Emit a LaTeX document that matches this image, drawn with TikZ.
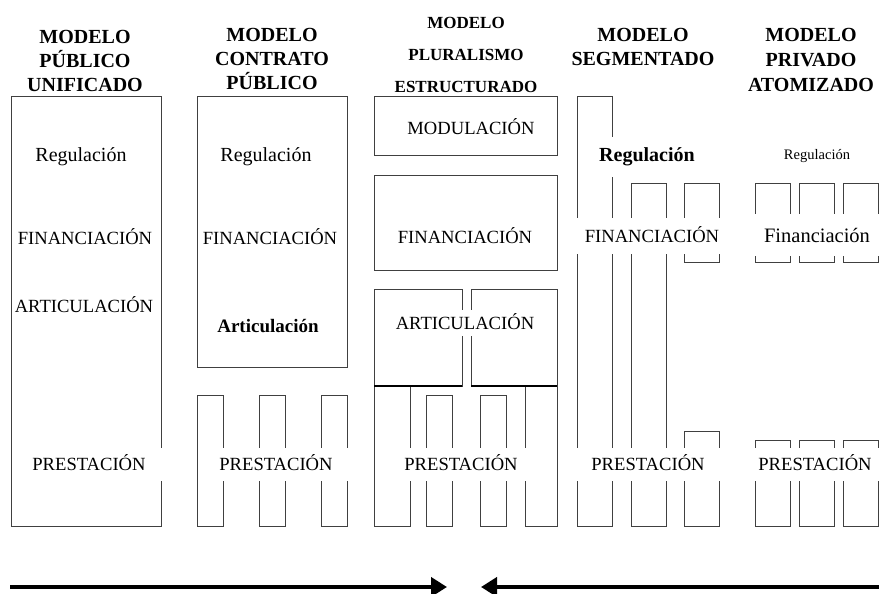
\documentclass[tikz,border=0pt]{standalone}
\usepackage{fontspec}
\setmainfont{Liberation Serif}
\usetikzlibrary{arrows.meta}
\newcommand{\capfont}{\fontsize{18.6}{20}\selectfont}
\newcommand{\regfont}{\fontsize{20}{22}\selectfont}
\newcommand{\headfont}{\fontsize{20}{24}\selectfont\bfseries}

\begin{document}
\begin{tikzpicture}[x=1pt, y=-1pt,
    frame/.style={draw=black!75, line width=0.9pt},
    floor/.style={draw=black, line width=2pt},
    head/.style={font=\headfont, align=center, anchor=north, inner sep=0pt},
    caps/.style={font=\capfont, inner sep=0pt, text height=12.5pt, text depth=0pt},
    gap/.style={caps, fill=white},
    reg/.style={font=\regfont, inner sep=0pt},
    push/.style={draw=black, line width=4pt, -{Triangle[length=16pt, width=19pt]}}
  ]
  \useasboundingbox (0,0) rectangle (879,594);

  % modelo publico unificado
  \draw[frame] (11,96) rectangle (161,526);
  % modelo contrato publico
  \draw[frame] (197,96) rectangle (347,367);
  \foreach \x in {197,259,321}
    \draw[frame] (\x,395) rectangle ++(26,131);
  % modelo pluralismo estructurado
  \draw[frame] (374,96) rectangle (557,155);
  \draw[frame] (374,175) rectangle (557,270);
  \draw[frame] (374,289) rectangle (462,386);
  \draw[frame] (471,289) rectangle (557,386);
  \draw[frame] (374,386) rectangle (410,526);
  \draw[frame] (525,386) rectangle (557,526);
  \foreach \x in {426,480}
    \draw[frame] (\x,395) rectangle ++(26,131);
  \draw[floor] (374,386) -- (462,386);
  \draw[floor] (471,386) -- (557,386);
  % modelo segmentado
  \draw[frame] (577,96) rectangle (612,526);
  \draw[frame] (631,183) rectangle (666,526);
  \draw[frame] (684,183) rectangle (719,262);
  \draw[frame] (684,431) rectangle (719,526);
  % modelo privado atomizado
  \foreach \x in {755,799,843} {
    \draw[frame] (\x,183) rectangle ++(35,79);
    \draw[frame] (\x,440) rectangle ++(35,86);
  }

  % titles
  \node[head] (t1) at (85,30.5) {MODELO\\PÚBLICO\\UNIFICADO};
  \node[head] (t2) at (272,28.5) {MODELO\\CONTRATO\\PÚBLICO};
  \node[head, font=\fontsize{17}{32}\selectfont\bfseries] (t3) at (466,17.4) {MODELO\\PLURALISMO\\ESTRUCTURADO};
  \node[head, font=\fontsize{20}{23.5}\selectfont\bfseries] (t4) at (643,28.5) {MODELO\\SEGMENTADO};
  \node[head, font=\fontsize{20}{25}\selectfont\bfseries] (t5) at (811,28.5) {MODELO\\PRIVADO\\ATOMIZADO};

  % column 1
  \node[reg] (reg1) at (81,157) {Regulación};
  \node[caps] (fin1) at (85,238) {FINANCIACIÓN};
  \node[caps] (art1) at (84,306) {ARTICULACIÓN};
  \node[gap, minimum width=146pt, minimum height=33pt] (pre1) at (89,464) {PRESTACIÓN};

  % column 2
  \node[reg] (reg2) at (266,157) {Regulación};
  \node[caps] (fin2) at (270,238) {FINANCIACIÓN};
  \node[reg, font=\fontsize{19}{21}\selectfont\bfseries] (art2) at (268,326) {Articulación};
  \node[gap, minimum width=148pt, minimum height=33pt] (pre2) at (276,464) {PRESTACIÓN};

  % column 3
  \node[caps] (mod3) at (471,128) {MODULACIÓN};
  \node[caps] (fin3) at (465,237) {FINANCIACIÓN};
  \node[gap, minimum width=150pt, minimum height=26pt] (art3) at (465,323) {ARTICULACIÓN};
  \node[gap, minimum width=136pt, minimum height=33pt] (pre3) at (461,464) {PRESTACIÓN};

  % column 4
  \node[reg, font=\regfont\bfseries, fill=white, minimum width=104pt, minimum height=40pt] (reg4) at (647,157) {Regulación};
  \node[gap, minimum width=160pt, minimum height=36pt] (fin4) at (652,236) {FINANCIACIÓN};
  \node[gap, minimum width=152pt, minimum height=33pt] (pre4) at (648,464) {PRESTACIÓN};

  % column 5
  \node[reg, font=\fontsize{14.5}{16}\selectfont] (reg5) at (817,156) {Regulación};
  \node[reg, font=\fontsize{20.5}{22}\selectfont, fill=white, minimum width=134pt, minimum height=42pt] (fin5) at (817,235) {Financiación};
  \node[gap, minimum width=134pt, minimum height=33pt] (pre5) at (815,464) {PRESTACIÓN};

  % arrows
  \coordinate (lstart) at (10,587);
  \coordinate (lend) at (447,587);
  \coordinate (rstart) at (879,587);
  \coordinate (rend) at (481,587);
  \draw[push] (lstart) -- (lend);
  \draw[push] (rstart) -- (rend);
\end{tikzpicture}
\end{document}
